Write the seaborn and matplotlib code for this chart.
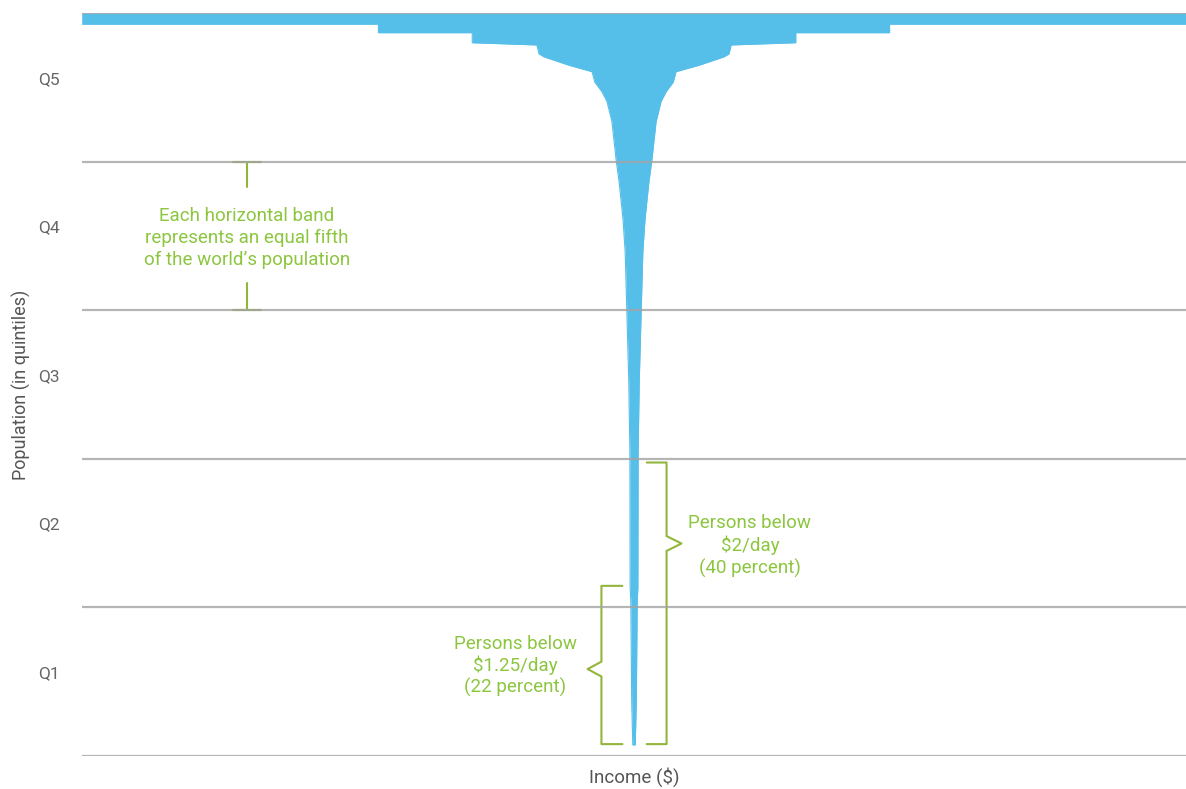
import numpy as np
import pandas as pd
import seaborn as sns
import matplotlib.pyplot as plt

# population percentile (0 = poorest, 100 = richest) and half-width of the
# income "glass" at that percentile (relative units, richest band = 100)
pop_pct = [100, 98.5, 98.5, 97.35, 97.35, 96.0, 95.7, 94.5, 94.1, 93.0, 92.1,
           90.7, 89.4, 88.1, 85.4, 82.7, 80.0, 77.3, 72.3, 67.9, 59.9, 50.5,
           41.1, 22.7, 20.9, 7.5, 1.5]
half_width = [100, 100, 46.3, 46.3, 29.3, 29.3, 17.6, 17.2, 16.3, 11.9, 7.6,
              7.1, 5.8, 4.9, 4.0, 3.6, 3.2, 2.7, 2.0, 1.6, 1.3, 0.95,
              0.75, 0.7, 0.58, 0.42, 0.22]

quintile_edges = [0, 20, 40, 60, 80, 100]
quintile_labels = ['Q1', 'Q2', 'Q3', 'Q4', 'Q5']
label_pos = [11.3, 31.3, 51.3, 71.3, 91.3]

band_note = "Each horizontal band\nrepresents an equal fifth\nof the world\u2019s population"
note_2 = "Persons below\n$2/day\n(40 percent)"
note_125 = "Persons below\n$1.25/day\n(22 percent)"
share_2 = 39.5      # top of the $2/day bracket
share_125 = 22.9    # top of the $1.25/day bracket

blue = '#56bfe9'
green_txt = '#8cc63f'
green_br = '#93b53c'
grey = '#a3a3a3'

sns.set_style('white')
plt.rcParams['font.family'] = ['Roboto', 'DejaVu Sans']

df = pd.DataFrame({'pop': pop_pct, 'hw': half_width})
outline = pd.DataFrame({
    'income': np.concatenate([-df['hw'].values, df['hw'].values[::-1]]),
    'pop': np.concatenate([df['pop'].values, df['pop'].values[::-1]]),
})

fig = plt.figure(figsize=(11.86, 7.89), dpi=100)
ax = fig.add_axes([82 / 1186, 33 / 789, 1104 / 1186, 743 / 789])

ax.fill_betweenx(df['pop'], -df['hw'], df['hw'], color=blue, lw=0, zorder=2)
sns.lineplot(data=outline, x='income', y='pop', sort=False, estimator=None,
             color=blue, lw=0.8, ax=ax, zorder=2)

for q in quintile_edges:
    ax.axhline(q, color=grey, lw=1.6, alpha=0.8, zorder=3)

ax.set_xlim(-100, 100)
ax.set_ylim(0, 100)
ax.set_xticks([])
ax.set_yticks(label_pos)
ax.set_yticklabels(quintile_labels)
ax.tick_params(axis='y', length=0, pad=16, labelsize=12.5, labelcolor='#666666')
sns.despine(ax=ax, left=True, bottom=True)

ax.set_ylabel('Population (in quintiles)', fontsize=13, color='#555555')
ax.yaxis.set_label_coords(-61 / 1104, 0.5)
ax.yaxis.label.set_va('center')
ax.set_xlabel('Income ($)', fontsize=13.5, color='#555555')
ax.xaxis.set_label_coords(0.5, -21 / 743)
ax.xaxis.label.set_va('center')

# band note with T markers
bx = -70.1
ax.text(bx, 69.7, band_note, ha='center', va='center', fontsize=13.5,
        color=green_txt, linespacing=1.3)
ax.plot([bx, bx], [80, 76.6], color=green_br, lw=1.5)
ax.plot([bx - 2.6, bx + 2.6], [80, 80], color=green_br, lw=1.5)
ax.plot([bx, bx], [63.6, 60], color=green_br, lw=1.5)
ax.plot([bx - 2.6, bx + 2.6], [60, 60], color=green_br, lw=1.5)


def brace(x_in, x_line, x_tip, top, bottom, tip_y):
    xs = [x_in, x_line, x_line, x_tip, x_line, x_line, x_in]
    ys = [top, top, tip_y + 1.0, tip_y, tip_y - 1.0, bottom, bottom]
    ax.plot(xs, ys, color=green_br, lw=1.5, solid_joinstyle='round')


brace(2.3, 5.9, 8.6, share_2, 1.6, 28.6)
brace(-2.1, -5.9, -8.4, share_125, 1.6, 11.7)

ax.text(21.0, 28.3, note_2, ha='center', va='center', fontsize=13.5,
        color=green_txt, linespacing=1.25)
ax.text(-21.5, 12.1, note_125, ha='center', va='center', fontsize=13.5,
        color=green_txt, linespacing=1.2)

fig.savefig('out.png', dpi=100)
